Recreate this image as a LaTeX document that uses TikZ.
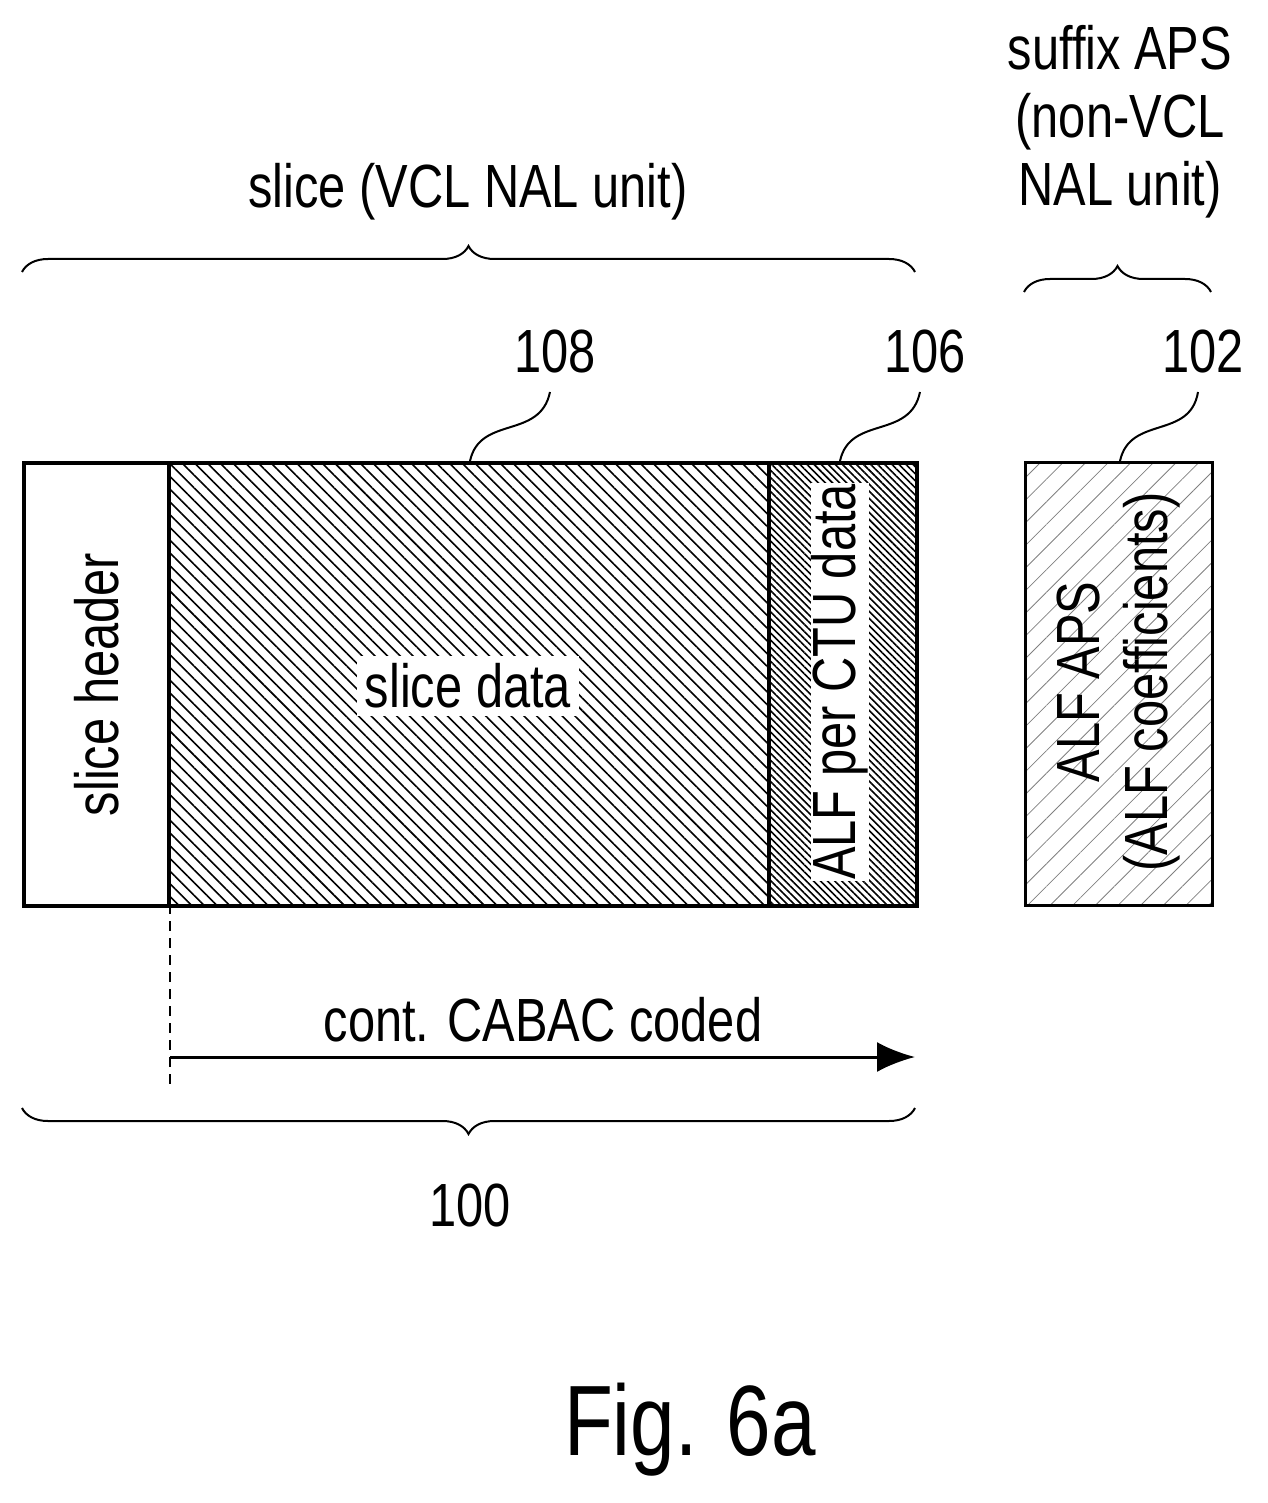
\documentclass[tikz,border=0pt]{standalone}
\usepackage{fontspec}
\setmainfont{Liberation Sans}[FakeStretch=0.8]
\usetikzlibrary{patterns.meta,decorations.pathreplacing,arrows.meta}
\begin{document}
\begin{tikzpicture}[x=1pt,y=-1pt,
  txt/.style={font=\fontsize{61}{68}\selectfont,inner sep=2pt},
  box/.style={draw,line width=4pt},
  brc/.style={decorate,decoration={brace,amplitude=26pt},line width=2pt},
  lead/.style={line width=2pt}]
\useasboundingbox (0,0) rectangle (1267,1503);
% boxes
\node[box,minimum width=145pt,minimum height=443pt,anchor=north west,inner sep=0] (sh) at (22,461) {};
\fill[pattern={Lines[angle=-45,distance=9pt,line width=1.6pt]}] (167,461) rectangle (767,904);
\fill[pattern={Lines[angle=-45,distance=5pt,line width=1.6pt]}] (767,461) rectangle (915,904);
\fill[pattern={Lines[angle=45,distance=16pt,line width=0.8pt]},pattern color=gray] (1024,461) rectangle (1211,904);
\node[box,minimum width=600pt,minimum height=443pt,anchor=north west,inner sep=0] (sd) at (167,461) {};
\node[box,minimum width=148pt,minimum height=443pt,anchor=north west,inner sep=0] (alf) at (767,461) {};
\node[draw,line width=3pt,minimum width=187pt,minimum height=443pt,anchor=north west,inner sep=0] (aps) at (1024,461) {};
\node[txt,rotate=90] at (sh.center) {slice header};
\node[txt,fill=white,inner sep=8pt] at (468,686) {slice data};
\node[txt,fill=white,rotate=90,inner sep=1pt] at (840,682) {ALF per CTU data};
\node[txt,rotate=90,align=center] at (1118,682) {ALF APS\\(ALF coefficients)};
% braces
\draw[brc] (22,272) -- (915,272) coordinate[midway] (bt);
\node[txt] (st) at (468,192) {slice (VCL NAL unit)};
\draw[brc] (1024,292) -- (1211,292);
\node[txt,align=center] (apst) at (1120,122) {suffix APS\\(non-VCL\\NAL unit)};
\draw[brc] (915,1108) -- (22,1108);
\node[txt] (n100) at (470,1205) {100};
% reference labels
\node[txt] (n108) at (555,352) {108};
\node[txt] (n106) at (925,352) {106};
\node[txt] (n102) at (1203,352) {102};
\coordinate (t108) at (470,461);
\coordinate (t106) at (840,461);
\coordinate (t102) at (1120,461);
\draw[lead] (t108) .. controls (480,415) and (540,440) .. (550,392);
\draw[lead] (t106) .. controls (850,415) and (910,440) .. (920,392);
\draw[lead] (t102) .. controls (1130,415) and (1190,440) .. (1198,392);
% arrow
\coordinate (d1) at (170,904);
\coordinate (d2) at (170,1085);
\draw[line width=2pt,dash pattern=on 10pt off 7pt] (d1) -- (d2);
\coordinate (a1) at (170,1057);
\coordinate (a2) at (915,1057);
\draw[line width=3pt,-{Latex[length=38pt,width=30pt]}] (a1) -- (a2);
\node[txt] (cc) at (543,1020) {cont. CABAC coded};
\node[font=\fontsize{100}{104}\selectfont] (fig) at (690,1430) {Fig. 6a};
\end{tikzpicture}
\end{document}
